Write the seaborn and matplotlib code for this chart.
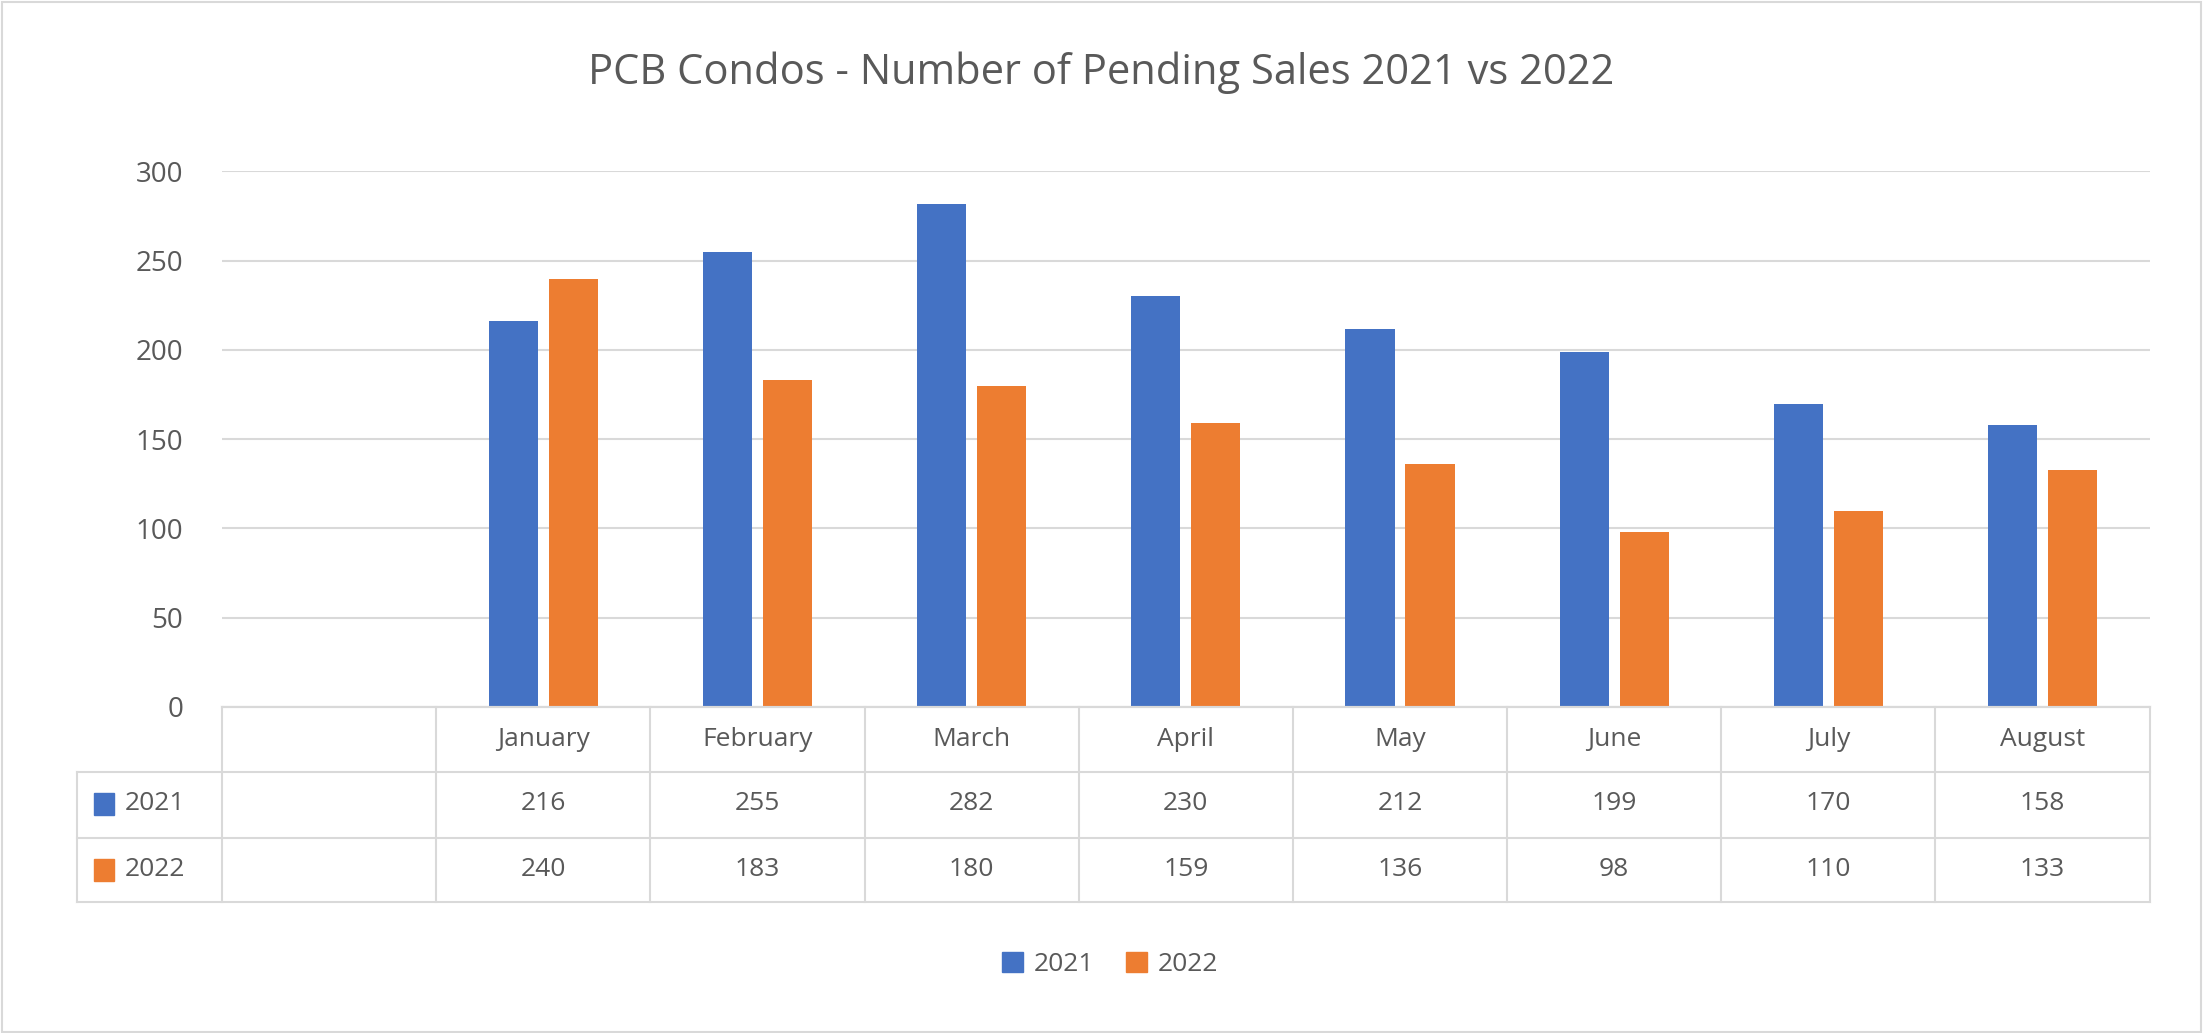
import matplotlib
matplotlib.use("Agg")
import matplotlib.pyplot as plt
import matplotlib.patches as mpatches
from matplotlib.lines import Line2D
import pandas as pd
import seaborn as sns

months = ["", "January", "February", "March", "April", "May", "June", "July", "August"]
sales_2021 = [None, 216, 255, 282, 230, 212, 199, 170, 158]
sales_2022 = [None, 240, 183, 180, 159, 136, 98, 110, 133]
series = ["2021", "2022"]
colors = ["#4472C4", "#ED7D31"]
yticks = [0, 50, 100, 150, 200, 250, 300]

TXT = "#595959"
GRID = "#d9d9d9"
W, H = 1568, 735  # layout measured in reference-display pixels


def fx(x):
    return x / W


def fy(y):
    return 1 - y / H


plt.rcParams["font.family"] = "Open Sans"
df = pd.DataFrame({
    "month": months * 2,
    "year": ["2021"] * len(months) + ["2022"] * len(months),
    "value": sales_2021 + sales_2022,
})

fig = plt.figure(figsize=(22.03, 10.33), dpi=100)
ax = fig.add_axes([fx(158), fy(503), fx(1530) - fx(158), fy(122) - fy(503)])
sns.barplot(data=df, x="month", y="value", hue="year", order=months, hue_order=series,
            palette=colors, width=0.56, gap=0.18, ax=ax, legend=False, saturation=1)
ax.set_ylim(0, 300)
ax.set_xlim(-0.5, len(months) - 0.5)
ax.set_yticks(yticks)
ax.yaxis.grid(True, color=GRID, lw=1.5)
ax.set_axisbelow(True)
ax.tick_params(axis="y", length=0, labelsize=20, labelcolor=TXT, pad=28)
ax.set_xticks([])
ax.set_xlabel("")
ax.set_ylabel("")
for s in ["top", "right", "left"]:
    ax.spines[s].set_visible(False)
ax.spines["bottom"].set_color(GRID)
ax.spines["bottom"].set_linewidth(1.5)

fig.text(0.5, fy(52), "PCB Condos - Number of Pending Sales 2021 vs 2022",
         ha="center", va="center", fontsize=30, color=TXT)

# data table
col_w = (1530 - 158) / len(months)
cols = [158 + i * col_w for i in range(len(months) + 1)]
rows = [503, 549, 596, 642]
for y in rows:
    x0 = 158 if y == 503 else 55
    fig.add_artist(Line2D([fx(x0), fx(1530)], [fy(y), fy(y)], color=GRID, lw=1.5))
fig.add_artist(Line2D([fx(55), fx(55)], [fy(549), fy(642)], color=GRID, lw=1.5))
for x in cols:
    fig.add_artist(Line2D([fx(x), fx(x)], [fy(503), fy(642)], color=GRID, lw=1.5))
for i, m in enumerate(months):
    cx = fx(cols[i] + col_w / 2)
    fig.text(cx, fy(526), m, ha="center", va="center", fontsize=19, color=TXT)
    for r, vals in enumerate([sales_2021, sales_2022]):
        if vals[i] is not None:
            fig.text(cx, fy(572 + 47 * r), str(vals[i]), ha="center", va="center",
                     fontsize=19, color=TXT)
for r, (name, c) in enumerate(zip(series, colors)):
    yc = fy(572 + 47 * r)
    fig.add_artist(mpatches.Rectangle((fx(67), yc - 0.011), fx(14), 0.022, color=c))
    fig.text(fx(89), yc, name, ha="left", va="center", fontsize=19, color=TXT)

handles = [mpatches.Patch(color=c, label=s) for s, c in zip(series, colors)]
fig.legend(handles=handles, loc="center", bbox_to_anchor=(fx(790), fy(686)), ncol=2,
           frameon=False, fontsize=19, labelcolor=TXT, handlelength=0.8, handleheight=0.8,
           columnspacing=1.2, handletextpad=0.4)

fig.add_artist(mpatches.Rectangle((0.001, 0.001), 0.998, 0.997, fill=False, ec=GRID, lw=1.5))
fig.savefig("out.png", dpi=100)
